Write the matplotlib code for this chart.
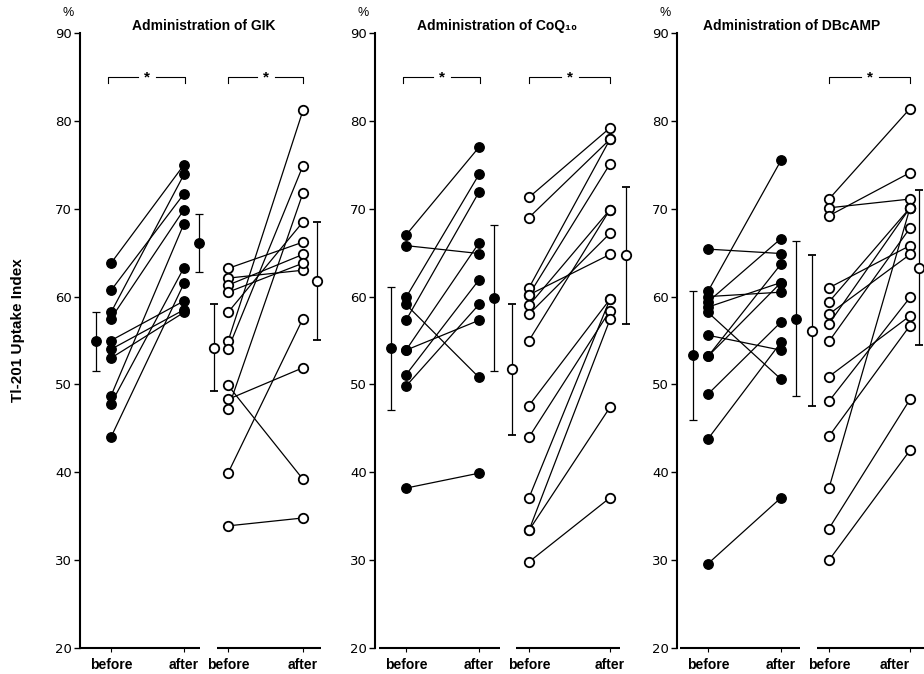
import matplotlib
matplotlib.use("Agg")
import matplotlib.pyplot as plt

plt.rcParams['font.family'] = ['Liberation Sans', 'DejaVu Sans']

titles = ["Administration of GIK", "Administration of CoQ\u2081\u2080", "Administration of DBcAMP"]
yticks = [20, 30, 40, 50, 60, 70, 80, 90]
xlabels = ["before", "after", "before", "after"]

# filled circles: paired before/after values
gik_filled_before = [63.8, 60.7, 58.2, 57.5, 55.0, 54.0, 53.0, 48.7, 47.8, 44.0]
gik_filled_after = [75.0, 71.7, 73.9, 69.9, 59.5, 58.5, 58.2, 68.3, 63.3, 61.5]
coq_filled_before = [67.0, 65.8, 59.9, 59.1, 57.3, 53.9, 53.9, 51.1, 49.8, 38.2]
coq_filled_after = [77.0, 64.9, 73.9, 50.8, 71.9, 66.1, 57.3, 61.9, 59.1, 39.9]
dbc_filled_before = [65.4, 60.6, 60.0, 59.4, 58.8, 58.2, 55.6, 53.2, 53.2, 48.9, 43.8, 29.6]
dbc_filled_after = [64.9, 75.5, 60.5, 66.6, 61.6, 50.6, 53.9, 63.7, 61.6, 57.1, 54.8, 37.1]

# open circles: paired before/after values
gik_open_before = [63.2, 62.1, 61.3, 60.5, 58.2, 54.9, 54.0, 49.9, 48.3, 47.2, 39.9, 33.9]
gik_open_after = [66.2, 63.0, 64.8, 63.8, 68.5, 81.2, 74.9, 39.2, 51.9, 71.8, 57.5, 34.8]
coq_open_before = [71.3, 69.0, 61.0, 60.2, 60.2, 59.0, 58.0, 55.0, 47.6, 44.0, 37.1, 33.4, 33.4, 29.8]
coq_open_after = [79.2, 77.9, 77.9, 75.1, 64.8, 69.9, 67.2, 69.9, 59.7, 58.4, 59.7, 57.4, 47.4, 37.1]
dbc_open_before = [71.1, 70.1, 69.2, 61.0, 59.4, 58.0, 56.9, 54.9, 50.9, 48.1, 44.1, 38.2, 33.6, 30.0]
dbc_open_after = [81.4, 71.1, 74.1, 65.8, 70.1, 64.8, 70.1, 67.8, 57.8, 59.9, 56.7, 70.1, 48.3, 42.5]

# group means and SD (before, after)
filled_mean = [[54.9, 66.1], [54.1, 59.8], [53.3, 57.5]]
filled_sd = [[3.4, 3.3], [7.0, 8.3], [7.3, 8.8]]
open_mean = [[54.2, 61.8], [51.7, 64.7], [56.1, 63.3]]
open_sd = [[4.9, 6.7], [7.4, 7.8], [8.6, 8.8]]
stars = [[True, True], [True, True], [False, True]]

panels = [
    (gik_filled_before, gik_filled_after, gik_open_before, gik_open_after),
    (coq_filled_before, coq_filled_after, coq_open_before, coq_open_after),
    (dbc_filled_before, dbc_filled_after, dbc_open_before, dbc_open_after),
]

# layout (pixel offsets from each panel's y axis)
W, H = 924, 674
lefts = [80, 375, 677]
widths = [250, 250, 247]
x_fb_mean, x_fb, x_fa, x_fa_mean = 16, 31, 104, 119
x_ob_mean = [134, 137, 135]
x_ob = [148, 154, 152]
x_oa = [223, 235, 233]
x_oa_mean = [237, 251, 242]
segs = [[(0, 120), (137, 241)], [(4, 125), (141, 245)], [(3, 123), (140, 247)]]
title_x = [204, 497, 792]

fig = plt.figure(figsize=(W / 100, H / 100), dpi=100)

def bracket(ax, x0, x1, y):
    xm = (x0 + x1) / 2
    gap = 9
    ax.plot([x0, x0, xm - gap], [y - 0.7, y, y], color='black', lw=0.8, clip_on=False)
    ax.plot([xm + gap, x1, x1], [y, y, y - 0.7], color='black', lw=0.8, clip_on=False)
    ax.text(xm, y - 0.1, '*', ha='center', va='center', fontsize=11, fontweight='bold')

for i, (fb, fa, ob, oa) in enumerate(panels):
    ax = fig.add_axes([lefts[i] / W, 26 / H, widths[i] / W, 615 / H])
    ax.set_xlim(0, widths[i])
    ax.set_ylim(20, 90)
    ax.patch.set_alpha(0)
    for s in ['top', 'right', 'bottom']:
        ax.spines[s].set_visible(False)
    ax.spines['left'].set_linewidth(1.5)
    ax.set_yticks(yticks)
    ax.set_yticklabels([str(t) for t in yticks], family='DejaVu Sans', fontsize=9.5)
    ax.tick_params(axis='y', direction='out', length=4, width=1, pad=2)
    ax.set_xticks([x_fb, x_fa, x_ob[i], x_oa[i]])
    ax.set_xticklabels(xlabels, fontweight='bold', fontsize=10)
    ax.tick_params(axis='x', direction='out', length=3, width=0.8, pad=4)
    if i == 2:
        ax.get_xticklabels()[3].set_horizontalalignment('right')
        ax.get_xticklabels()[3].set_x(x_oa[i] + 12)

    for s0, s1 in segs[i]:
        ax.plot([s0, s1], [20, 20], color='black', lw=1.5, clip_on=False, solid_capstyle='butt')

    # filled pairs
    for b, a in zip(fb, fa):
        ax.plot([x_fb, x_fa], [b, a], color='black', lw=0.9, zorder=2)
    ax.plot([x_fb] * len(fb), fb, 'o', ms=6.8, mfc='black', mec='black', zorder=3)
    ax.plot([x_fa] * len(fa), fa, 'o', ms=6.8, mfc='black', mec='black', zorder=3)

    # open pairs
    for b, a in zip(ob, oa):
        ax.plot([x_ob[i], x_oa[i]], [b, a], color='black', lw=0.9, zorder=2)
    ax.plot([x_ob[i]] * len(ob), ob, 'o', ms=6.8, mfc='white', mec='black', mew=1.3, zorder=3)
    ax.plot([x_oa[i]] * len(oa), oa, 'o', ms=6.8, mfc='white', mec='black', mew=1.3, zorder=3)

    # means +- SD
    ax.errorbar([x_fb_mean, x_fa_mean], filled_mean[i], yerr=filled_sd[i], fmt='o', ms=6.8,
                mfc='black', mec='black', ecolor='black', elinewidth=0.9, capsize=3, capthick=0.9,
                clip_on=False, zorder=3)
    ax.errorbar([x_ob_mean[i], x_oa_mean[i]], open_mean[i], yerr=open_sd[i], fmt='o', ms=6.8,
                mfc='white', mec='black', mew=1.3, ecolor='black', elinewidth=0.9, capsize=3,
                capthick=0.9, clip_on=False, zorder=3)

    if stars[i][0]:
        bracket(ax, x_fb - 3, x_fa + 1, 85.0)
    if stars[i][1]:
        bracket(ax, x_ob[i], x_oa[i], 85.0)

    fig.text(title_x[i] / W, 1 - 26 / H, titles[i], ha='center', va='center',
             fontsize=10, fontweight='bold')
    fig.text((lefts[i] - 12) / W, 1 - 13 / H, '%', ha='center', va='center', fontsize=9)

fig.text(18 / W, 1 - 330 / H, 'Tl-201 Uptake Index', rotation=90, ha='center', va='center',
         fontsize=11, fontweight='bold')

fig.savefig('out.png', dpi=100)
